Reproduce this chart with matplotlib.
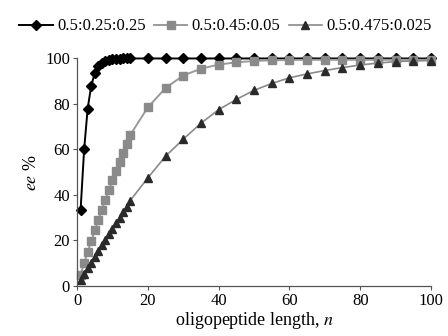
import matplotlib
matplotlib.use('Agg')
from matplotlib import pyplot as plt

plt.rcParams['font.family'] = ['Liberation Serif', 'DejaVu Serif']
plt.rcParams['mathtext.fontset'] = 'stix'

# n values: every step up to 15, then every 5
n_dense = list(range(1, 16))
n_sparse = list(range(20, 101, 5))
n_vals = n_dense + n_sparse

ee_a = [33.5, 60, 78, 88, 93.5, 96.5, 98, 99, 99.5, 99.7, 99.8, 99.9, 100, 100, 100,
        100, 100, 100, 100, 100, 100, 100, 100, 100, 100, 100, 100, 100, 100, 100, 100, 100]
ee_b = [5.0, 10.0, 14.9, 19.7, 24.4, 29.0, 33.5, 37.9, 42.2, 46.4, 50.5, 54.5, 58.5, 62.4, 66.3,
        78.5, 87, 92.5, 95.5, 97.3, 98.3, 98.9, 99.2, 99.3, 99.4, 99.4, 99.4, 99.4, 99.4, 99.4, 99.4, 99.4]
ee_c = [2.6, 5.2, 7.8, 10.3, 12.8, 15.3, 17.8, 20.3, 22.8, 25.2, 27.6, 30.0, 32.4, 34.7, 37.5,
        47.5, 57, 64.5, 71.5, 77.5, 82, 86, 89, 91.5, 93.2, 94.7, 96, 97.1, 98, 98.6, 98.9, 99.1]

labels = ['0.5:0.25:0.25', '0.5:0.45:0.05', '0.5:0.475:0.025']

fig = plt.figure(figsize=(4.48, 3.36), dpi=100)
ax = fig.add_axes([0.172, 0.149, 0.79, 0.677])

ax.plot(n_vals, ee_a, color='black', lw=1.4, marker='D', ms=5.5, label=labels[0], clip_on=False)
ax.plot(n_vals, ee_b, color='#9a9a9a', lw=1.4, marker='s', ms=5.8, mfc='#8a8a8a', mec='#8a8a8a',
        label=labels[1], clip_on=False)
ax.plot(n_vals, ee_c, color='#8a8a8a', lw=1.2, marker='^', ms=5.2, mfc='#2a2a2a', mec='#2a2a2a',
        label=labels[2], clip_on=False)

ax.set_xlim(0, 100)
ax.set_ylim(0, 100)
ax.set_xticks(range(0, 101, 20))
ax.set_yticks(range(0, 101, 20))
ax.tick_params(labelsize=12, length=3, width=0.8, color='#555555', pad=2)
for side in ['top', 'right']:
    ax.spines[side].set_visible(False)
for side in ['left', 'bottom']:
    ax.spines[side].set_color('#555555')
    ax.spines[side].set_linewidth(0.9)

ax.set_xlabel('oligopeptide length, $n$', fontsize=13, labelpad=1)
ax.set_ylabel('$ee$ %', fontsize=13, labelpad=4)

fig.legend(loc='upper left', bbox_to_anchor=(0.01, 0.99), ncol=3, frameon=False,
           fontsize=12, handlelength=2.0, handletextpad=0.25, columnspacing=0.5)

fig.savefig('out.png', dpi=100)
